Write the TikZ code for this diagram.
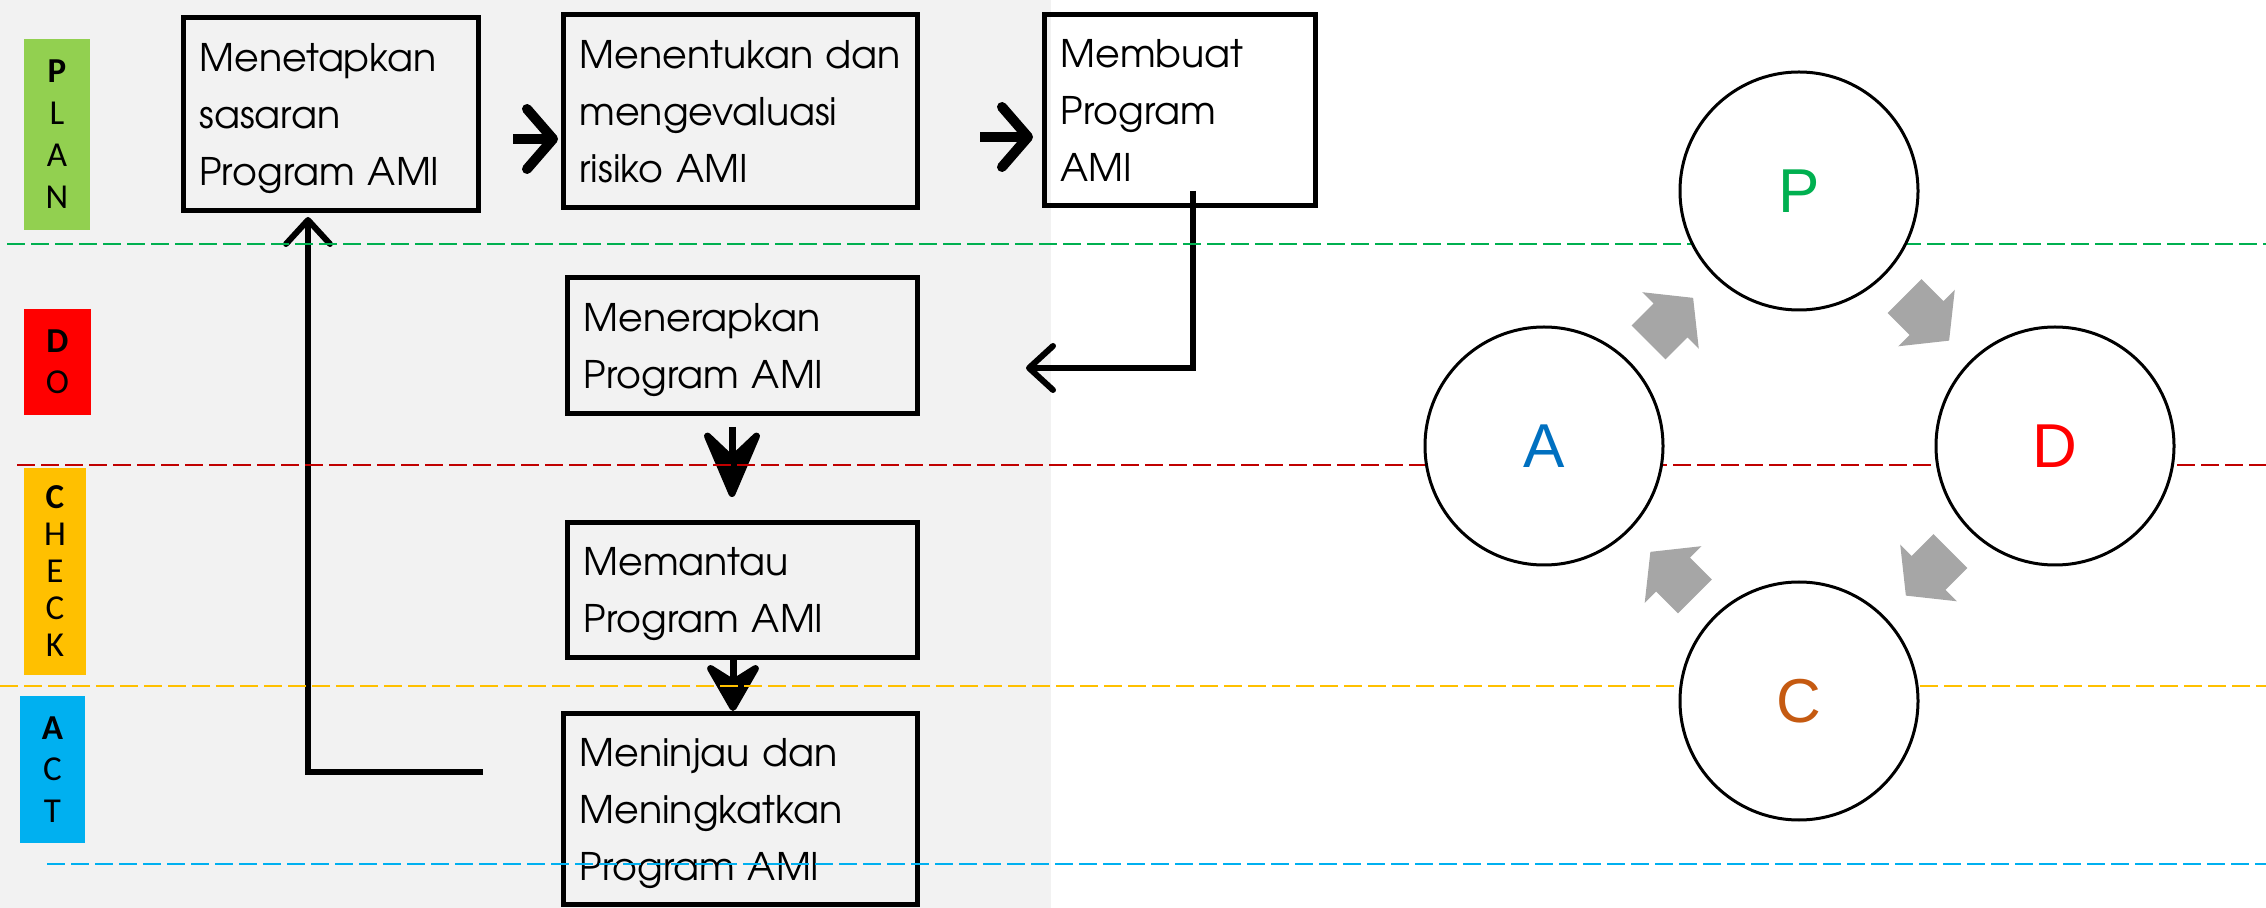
\documentclass[tikz,border=0pt]{standalone}
\usepackage{fontspec}
\newfontfamily\hurufkotak{TeX Gyre Adventor}
\newfontfamily\huruflabel{Carlito}
\newfontfamily\hurufpdca{Liberation Sans}
\usepackage{xcolor}
\definecolor{abuLatar}{RGB}{242,242,242}
\definecolor{abuPanah}{RGB}{166,166,166}
\definecolor{hijauPlan}{RGB}{146,208,80}
\definecolor{hijau}{RGB}{0,176,80}
\definecolor{merah}{RGB}{255,0,0}
\definecolor{merahTua}{RGB}{192,0,0}
\definecolor{kuning}{RGB}{255,192,0}
\definecolor{biruMuda}{RGB}{0,176,240}
\definecolor{biru}{RGB}{0,112,192}
\definecolor{coklat}{RGB}{197,90,17}
\usepackage{tikz}
\usetikzlibrary{arrows.meta,calc,positioning}
\newcommand{\akhirteks}{\par\vskip-\prevdepth\vskip-6pt}
\tikzstyle{kotak}=[rectangle, draw, line width=2.5pt,
                   inner xsep=8pt, inner ysep=0pt, align=left,
                   execute at end node=\akhirteks,
                   font=\hurufkotak\fontsize{19}{28.5}\selectfont]
\tikzstyle{tahap}=[rectangle, inner sep=0pt, align=center, text width=30pt,
                   font=\huruflabel\fontsize{17.5}{21}\selectfont]
\tikzstyle{lingkaran}=[circle, draw, fill=white, line width=1.5pt,
                   minimum size=119pt, inner sep=0pt,
                   font=\hurufpdca\fontsize{31}{31}\selectfont]
\tikzstyle{garis}=[line width=3pt,
                   -{Straight Barb[length=12pt,width=22pt,round]}]
\tikzstyle{garisTebal}=[line width=5pt,
                   -{Straight Barb[length=13pt,width=30pt,round]}]
\tikzstyle{panahTurun}=[line width=3.5pt,
                   -{Stealth[length=40pt,width=34pt,inset=16pt,round]}]
\tikzstyle{panahPendek}=[line width=3.5pt,
                   -{Stealth[length=28pt,width=32pt,inset=10pt,round]}]
\tikzstyle{putus}=[line width=1.25pt, dash pattern=on 9pt off 3pt]

\begin{document}
\begin{tikzpicture}[x=0.5pt,y=-0.5pt]
    \useasboundingbox (0,0) rectangle (2266,908);
    \fill[abuLatar] (0,0) rectangle (1051,908);

    %label tahap
    \draw (57,134.5) node (plan) [tahap, fill=hijauPlan, minimum width=33pt, minimum height=95.5pt] {\textbf{P}\\L\\A\\N};
    \draw (57.5,362) node (do) [tahap, fill=merah, minimum width=33.5pt, minimum height=53pt,
        font=\huruflabel\fontsize{17.5}{20.5}\selectfont] {\textbf{D}\\O};
    \draw (55,571.5) node (check) [tahap, fill=kuning, minimum width=31pt, minimum height=103.5pt,
        font=\huruflabel\fontsize{17.5}{18.5}\selectfont] {\textbf{C}\\H\\E\\C\\K};
    \draw (52.5,769.5) node (act) [tahap, fill=biruMuda, minimum width=32.5pt, minimum height=73.5pt,
        font=\huruflabel\fontsize{17.5}{20.75}\selectfont] {\textbf{A}\\C\\T};

    %kotak proses
    \draw (331,114) node (b1) [kotak, text width=131.5pt, minimum height=96.5pt] {Menetapkan\\sasaran\\Program AMI};
    \draw (740.5,111) node (b2) [kotak, text width=161pt, minimum height=96.5pt] {Menentukan~dan\\mengevaluasi\\risiko AMI};
    \draw (1180,110) node (b3) [kotak, text width=119.5pt, minimum height=95.5pt] {Membuat\\Program\\AMI};
    \draw (742.5,345.5) node (b4) [kotak, text width=159pt, minimum height=68pt] {Menerapkan\\Program AMI};
    \draw (742.5,590) node (b5) [kotak, text width=159pt, minimum height=67.5pt] {Memantau\\Program AMI};
    \draw (740.5,809) node (b6) [kotak, text width=161pt, minimum height=95.5pt] {Meninjau~dan\\Meningkatkan\\Program AMI};

    %panah antar kotak
    \draw[garisTebal, shorten <=16pt, shorten >=1.5pt] ([yshift=-12.5pt]b1.east) -- ([yshift=-12.5pt]b1.east -| b2.west);
    \draw[garisTebal, shorten <=30pt, shorten >=4.5pt] ([yshift=-13pt]b2.east) -- ([yshift=-13pt]b2.east -| b3.west);
    \draw[garis, shorten >=53pt] ([xshift=6.5pt,yshift=8.5pt]b3.south) |- ([yshift=-11.25pt]b4.east);
    \draw[panahTurun, shorten <=5.5pt, shorten >=11.5pt] ([xshift=-5.25pt]b4.south) -- ([xshift=-5.25pt]b4.south |- b5.north);
    \draw[panahPendek] ([xshift=-4.75pt]b5.south) -- ([xshift=-4.75pt]b5.south |- b6.north);
    \draw[garis, shorten >=2pt] ([xshift=-39pt,yshift=18.5pt]b6.west) -| ([xshift=-11.5pt]b1.south);

    %garis batas tahap
    \foreach \y/\xa/\w in {244/7/hijau, 465/17/merahTua, 686/0/kuning, 864/47/biruMuda}
        \draw[putus, \w] (\xa,\y) -- (2266,\y);

    %siklus PDCA
    \foreach \nama/\x/\y/\w in {P/1799/191/hijau, D/2055/446/merah, C/1799/701/coklat, A/1544/446/biru}
        \draw (\x,\y) node (\nama) [lingkaran, text=\w] {\nama};
    \foreach \x/\y/\r in {1670.5/320.5/45, 1926.5/318/-45, 1928.5/573/-135, 1673/574.5/135}
        \fill[abuPanah, shift={(\x,\y)}, rotate=\r] (-31,-24) -- (0,-24) -- (0,-40) -- (32,0)
            -- (0,40) -- (0,24) -- (-31,24) -- cycle;

\end{tikzpicture}
\end{document}
